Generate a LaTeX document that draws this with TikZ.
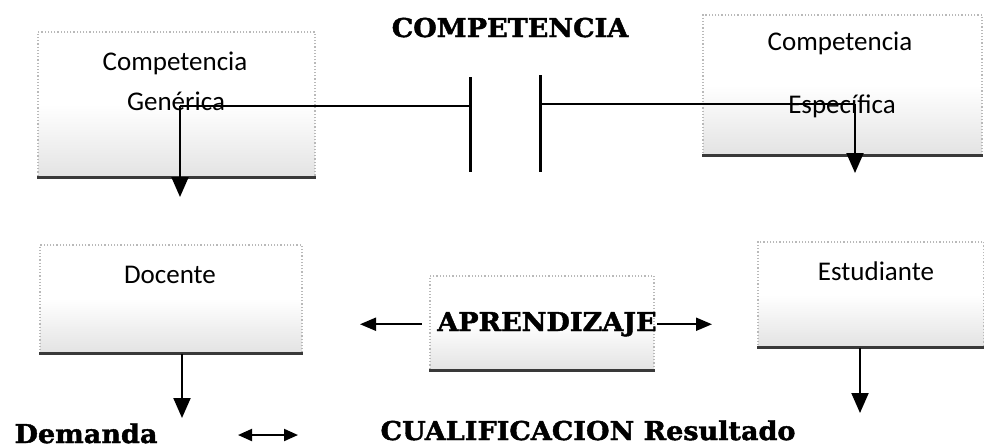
\documentclass[tikz,border=0pt]{standalone}
\usepackage{fontspec}
\usetikzlibrary{arrows.meta,positioning}
\setmainfont{Carlito}
\newfontfamily\clarfont{DejaVu Serif}[FakeStretch=1.04,FakeBold=1.6]

\begin{document}
\begin{tikzpicture}[x=0.5pt, y=-0.5pt]
	\tikzstyle{scanbox} = [rectangle, draw=gray!55, densely dotted, line width=0.6pt, inner sep=0pt, top color=white, bottom color=gray!22, middle color=white]
	\tikzstyle{boxfoot} = [draw=gray!45!black, line width=1.4pt]
	\tikzstyle{boxtext} = [anchor=base, inner sep=0pt, font=\fontsize{13.5}{16}\selectfont]
	\tikzstyle{headline} = [anchor=base, inner sep=0pt, font=\clarfont\bfseries\fontsize{13}{15}\selectfont]
	\tikzstyle{wire} = [line width=1pt]
	\tikzstyle{plate} = [line width=1.5pt]
	\tikzstyle{drop} = [wire, -{Triangle[length=10pt,width=8.5pt]}]
	\tikzstyle{side} = [wire, -{Triangle[length=8pt,width=6.5pt]}]
	\tikzstyle{both} = [wire, {Triangle[length=7pt,width=6pt]}-{Triangle[length=7pt,width=6pt]}]

	\useasboundingbox (0,0) rectangle (984,447);

	% Title
	\node (title) [headline] at (510,37) {COMPETENCIA};

	% Competencia generica
	\node (gen) [scanbox, minimum width=138.5pt, minimum height=72.5pt] at (176.5,104.5) {};
	\draw[boxfoot] (gen.south west) -- (gen.south east);
	\node (genA) [boxtext] at (175,70) {Competencia};
	\node (genB) [boxtext] at (176,110) {Genérica};

	% Competencia especifica
	\node (esp) [scanbox, minimum width=139.5pt, minimum height=70pt] at (842.5,85) {};
	\draw[boxfoot] (esp.south west) -- (esp.south east);
	\node (espA) [boxtext] at (840,50) {Competencia};
	\node (espB) [boxtext] at (842,113) {Específica};

	% Docente, aprendizaje, estudiante
	\node (doc) [scanbox, minimum width=131pt, minimum height=54pt] at (171,299) {};
	\draw[boxfoot] (doc.south west) -- (doc.south east);
	\node (docA) [boxtext] at (170,283) {Docente};

	\node (apr) [scanbox, minimum width=112pt, minimum height=47pt] at (542,323) {};
	\draw[boxfoot] (apr.south west) -- (apr.south east);
	\node (aprtxt) [headline] at (547,331) {APRENDIZAJE};

	\node (est) [scanbox, minimum width=113pt, minimum height=52.5pt] at (871,294.5) {};
	\draw[boxfoot] (est.south west) -- (est.south east);
	\node (estA) [boxtext] at (876,280) {Estudiante};

	% Bottom line
	\node (dem) [headline] at (86,443) {Demanda};
	\node (cual) [headline] at (588,440) {CUALIFICACION Resultado};

	% Plates
	\coordinate (plateL) at (470,106);
	\coordinate (plateR) at (540,104);
	\draw[plate] (470,77) -- (470,172);
	\draw[plate] (540,75) -- (540,172);

	% Connectors
	\coordinate (genjoint) at (180,106);
	\coordinate (gendrop) at (180,197);
	\coordinate (espjoint) at (855,104);
	\coordinate (espdrop) at (855,173);
	\coordinate (docdrop) at (182,418);
	\coordinate (estdrop) at (860,413);
	\coordinate (aprL) at (360,320);
	\coordinate (aprR) at (712,318);
	\coordinate (dblL) at (238,435);
	\coordinate (dblR) at (298,435);

	\draw[wire] (genjoint) -- (plateL);
	\draw[drop] (genjoint) -- (gendrop);
	\draw[wire] (plateR) -- (espjoint);
	\draw[drop] (espjoint) -- (espdrop);
	\draw[drop] (doc.south -| docdrop) -- (docdrop);
	\draw[drop] (est.south -| estdrop) -- (estdrop);
	\draw[side, shorten <=7.5pt] (aprtxt.west) -- (aprtxt.west -| aprL);
	\draw[side] (aprtxt.east) -- (aprtxt.east -| aprR);
	\draw[both] (dblL) -- (dblR);
\end{tikzpicture}
\end{document}
